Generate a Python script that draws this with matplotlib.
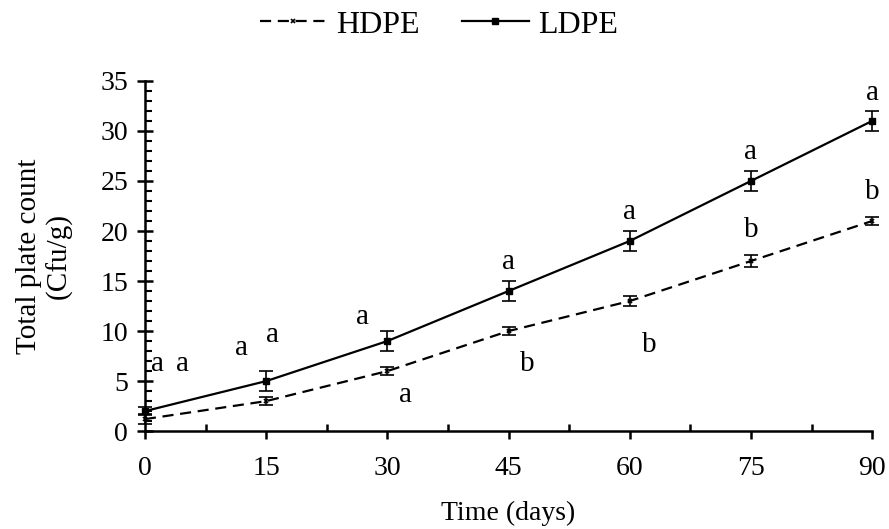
import matplotlib
matplotlib.use("Agg")
import matplotlib.pyplot as plt
from matplotlib.ticker import MultipleLocator
from matplotlib.lines import Line2D

plt.rcParams['font.family'] = ['Liberation Serif', 'DejaVu Serif']

days = [0, 15, 30, 45, 60, 75, 90]
hdpe = [1.2, 3.0, 6.0, 10.0, 13.0, 17.0, 21.0]
hdpe_err = [0.5, 0.4, 0.4, 0.4, 0.5, 0.6, 0.4]
ldpe = [2.0, 5.0, 9.0, 14.0, 19.0, 25.0, 31.0]
ldpe_err = [0.4, 1.0, 1.0, 1.0, 1.0, 1.0, 1.0]

# significance letters: (x, y, text)
letter_x = [1.6, 4.6, 12.0, 15.8, 26.9, 32.2, 45.0, 47.3, 60.0, 62.4, 75.0, 75.0, 90.0, 90.0]
letter_y = [6.7, 6.7, 8.3, 9.6, 11.4, 3.6, 16.9, 6.7, 21.9, 8.6, 27.9, 20.1, 33.8, 23.9]
letter_t = ['a', 'a', 'a', 'a', 'a', 'a', 'a', 'b', 'a', 'b', 'a', 'b', 'a', 'b']

fig = plt.figure(figsize=(8.89, 5.29), dpi=100)
ax = fig.add_axes([0.163, 0.185, 0.818, 0.662])

hd_style = dict(color='black', linestyle=(0, (5, 3)), linewidth=1.6, marker='x',
                markersize=3, markeredgewidth=1.2)
ld_style = dict(color='black', linestyle='-', linewidth=1.6, marker='s', markersize=5)

ax.errorbar(days, hdpe, yerr=hdpe_err, capsize=5, elinewidth=1.2, capthick=1.2,
            clip_on=False, **hd_style)
ax.errorbar(days, ldpe, yerr=ldpe_err, capsize=5, elinewidth=1.2, capthick=1.2,
            clip_on=False, **ld_style)

for x, y, t in zip(letter_x, letter_y, letter_t):
    ax.text(x, y, t, ha='center', va='center', fontsize=21)

ax.set_xlim(0, 90)
ax.set_ylim(0, 35)
ax.xaxis.set_major_locator(MultipleLocator(15))
ax.xaxis.set_minor_locator(MultipleLocator(7.5))
ax.yaxis.set_major_locator(MultipleLocator(5))
ax.yaxis.set_minor_locator(MultipleLocator(1))

for s in ['top', 'right']:
    ax.spines[s].set_visible(False)
for s in ['left', 'bottom']:
    ax.spines[s].set_linewidth(1.8)

ax.tick_params(axis='x', which='major', direction='out', length=6, width=1.8,
               labelsize=20, pad=12)
ax.tick_params(axis='x', which='minor', direction='in', length=5, width=1.8)
ax.tick_params(axis='y', which='major', direction='inout', length=12, width=1.8,
               labelsize=20, pad=6)
ax.tick_params(axis='y', which='minor', direction='in', length=5, width=1.5)

ax.set_xlabel('Time (days)', fontsize=20, labelpad=14)
ax.set_ylabel('Total plate count\n(Cfu/g)', fontsize=21, labelpad=20, linespacing=1.15)

handles = [Line2D([], [], **hd_style), Line2D([], [], **ld_style)]
fig.legend(handles, ['HDPE', 'LDPE'], loc='upper center', bbox_to_anchor=(0.494, 1.035),
           ncol=2, frameon=False, fontsize=23, handlelength=2.1, columnspacing=1.3,
           handletextpad=0.3)

fig.savefig('out.png', dpi=100)
